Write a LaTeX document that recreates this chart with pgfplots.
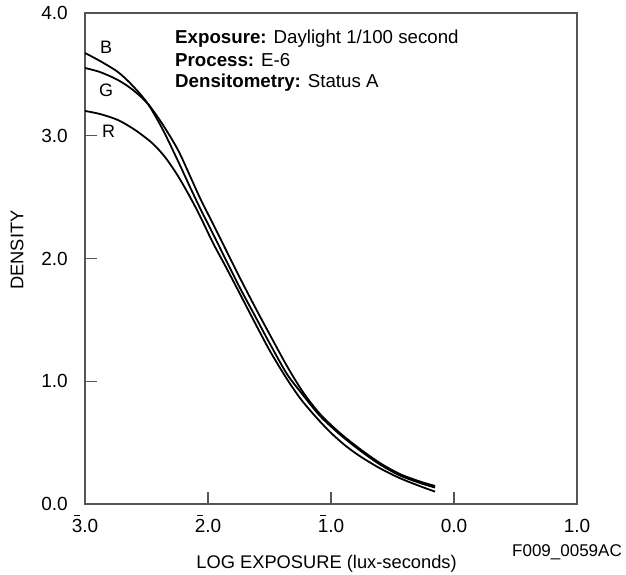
\documentclass[border=0pt]{standalone}
\usepackage{fontspec}
\setmainfont{Liberation Sans}
\usepackage{pgfplots}
\pgfplotsset{compat=1.18}
\definecolor{axisgray}{RGB}{85,85,85}
% digit with a bar over it (negative characteristic)
\newcommand\nb[1]{\setbox0\hbox{#1}\rlap{\hbox to\wd0{\hss\raisebox{\dimexpr\ht0+2.5pt\relax}{\rule{0.6\wd0}{1pt}}\hss}}\box0}

\pgfplotstableread{
x y
-3.000 3.674
-2.878 3.609
-2.732 3.519
-2.610 3.405
-2.488 3.259
-2.366 3.047
-2.244 2.794
-2.146 2.582
-2.065 2.411
-1.967 2.216
-1.862 2.004
-1.740 1.760
-1.618 1.532
-1.496 1.304
-1.358 1.059
-1.228 0.888
-1.089 0.717
-0.927 0.566
-0.764 0.436
-0.602 0.322
-0.439 0.232
-0.276 0.171
-0.154 0.134
}\blue

\pgfplotstableread{
x y
-3.000 3.552
-2.878 3.519
-2.732 3.454
-2.610 3.373
-2.488 3.259
-2.366 3.088
-2.244 2.884
-2.146 2.672
-2.065 2.493
-1.967 2.297
-1.862 2.086
-1.740 1.841
-1.618 1.605
-1.496 1.377
-1.358 1.124
-1.228 0.912
-1.089 0.733
-0.927 0.578
-0.764 0.448
-0.602 0.334
-0.439 0.244
-0.276 0.183
-0.154 0.147
}\green

\pgfplotstableread{
x y
-3.000 3.202
-2.878 3.177
-2.732 3.128
-2.593 3.047
-2.455 2.941
-2.350 2.827
-2.244 2.672
-2.146 2.501
-2.065 2.346
-1.959 2.126
-1.862 1.945
-1.740 1.711
-1.618 1.475
-1.496 1.246
-1.374 1.043
-1.252 0.863
-1.130 0.717
-1.008 0.587
-0.886 0.478
-0.764 0.389
-0.602 0.291
-0.439 0.210
-0.276 0.145
-0.154 0.101
}\red

\begin{document}
\begin{tikzpicture}
\path[use as bounding box] (-85pt,-71pt) rectangle (541pt,504pt);
\begin{axis}[
    at={(0,0)}, anchor=south west,
    scale only axis,
    width=492pt, height=491pt,
    xmin=-3, xmax=1, ymin=0, ymax=4,
    axis line style={axisgray, line width=1.2pt},
    tick style={axisgray, line width=1.2pt},
    major tick length=12pt,
    tick align=inside,
    xtick pos=bottom, ytick pos=left,
    xtick={-3,-2,-1,0,1},
    xticklabels={\nb{3}.0, \nb{2}.0, \nb{1}.0, 0.0, 1.0},
    ytick={0,1,2,3,4},
    yticklabels={0.0, 1.0, 2.0, 3.0, 4.0},
    ticklabel style={font=\fontsize{19}{22}\selectfont, inner sep=0pt},
    xticklabel style={anchor=base, yshift=-28pt},
    yticklabel style={anchor=east, xshift=-17pt},
    xlabel={LOG EXPOSURE (lux-seconds)},
    ylabel={DENSITY},
    label style={font=\fontsize{18.3}{21}\selectfont},
    xlabel style={at={(axis description cs:0.491,0)}, anchor=base, yshift=-64pt},
    ylabel style={at={(axis description cs:-0.138,0.517)}, anchor=center},
    clip=false,
]
\addplot[black, line width=1.8pt, smooth, tension=0.5] table {\blue};
\addplot[black, line width=1.8pt, smooth, tension=0.5] table {\green};
\addplot[black, line width=1.8pt, smooth, tension=0.5] table {\red};

\node[anchor=base west, inner sep=0pt, font=\fontsize{18}{21}\selectfont] at (axis cs:-2.878,3.674) {B};
\node[anchor=base west, inner sep=0pt, font=\fontsize{18}{21}\selectfont] at (axis cs:-2.886,3.316) {G};
\node[anchor=base west, inner sep=0pt, font=\fontsize{18}{21}\selectfont] at (axis cs:-2.862,2.982) {R};

\node[anchor=base west, inner sep=0pt, font=\fontsize{18.7}{22}\selectfont] at (axis cs:-2.268,3.7475) {\textbf{Exposure:} Daylight 1/100 second};
\node[anchor=base west, inner sep=0pt, font=\fontsize{18.7}{22}\selectfont] at (axis cs:-2.268,3.568) {\textbf{Process:} E-6};
\node[anchor=base west, inner sep=0pt, font=\fontsize{18.7}{22}\selectfont] at (axis cs:-2.268,3.389) {\textbf{Densitometry:} Status A};

\node[anchor=base east, inner sep=0pt, font=\fontsize{17}{20}\selectfont] at (rel axis cs:1.0915,-0.106) {F009\_0059AC};
\end{axis}
\end{tikzpicture}
\end{document}
